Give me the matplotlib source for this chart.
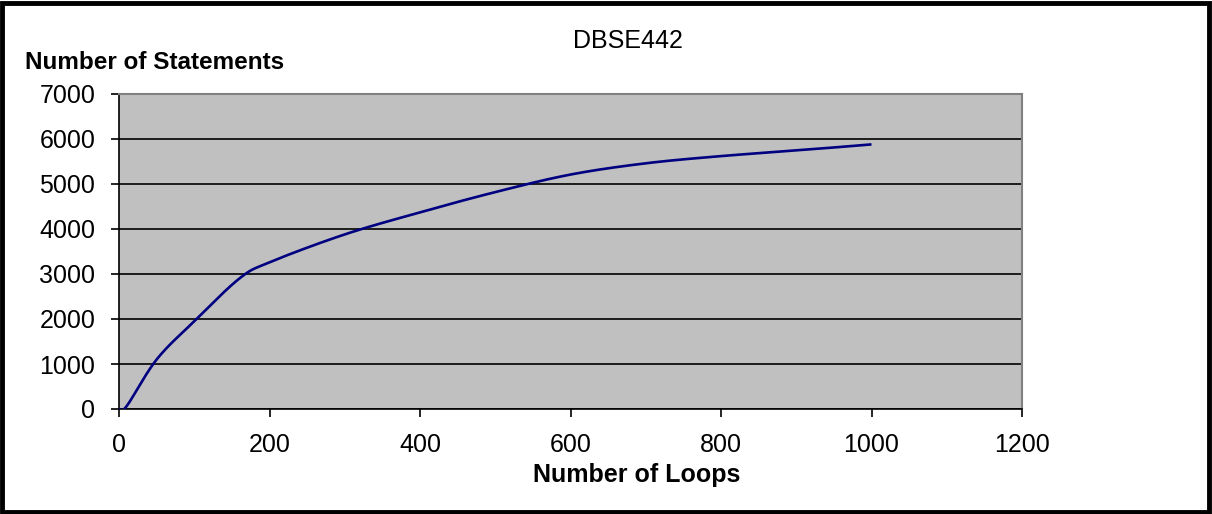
import numpy as np
import matplotlib.pyplot as plt
from matplotlib.patches import Rectangle

plt.rcParams["font.family"] = ["Liberation Sans", "DejaVu Sans"]

# Loop count vs. number of statements generated
loops = [0, 10, 50, 100, 160, 200, 300, 400, 500, 600, 700, 800, 900, 1000]
statements = [0, 60, 1100, 1950, 2900, 3260, 3880, 4370, 4820, 5210, 5460, 5620, 5745, 5880]

x_ticks = [0, 200, 400, 600, 800, 1000, 1200]
y_ticks = [0, 1000, 2000, 3000, 4000, 5000, 6000, 7000]


def smooth_line(xs, ys, steps=40):
    # Catmull-Rom style smoothing through every data point (like a spreadsheet "smoothed line")
    px = np.asarray(xs, float)
    py = np.asarray(ys, float)
    px = np.concatenate([[px[0]], px, [px[-1]]])
    py = np.concatenate([[py[0]], py, [py[-1]]])
    out_x, out_y = [], []
    t = np.linspace(0, 1, steps)
    for i in range(1, len(px) - 2):
        p0, p1, p2, p3 = [np.array([px[j], py[j]]) for j in (i - 1, i, i + 1, i + 2)]
        c1 = p1 + (p2 - p0) / 6.0
        c2 = p2 - (p3 - p1) / 6.0
        pts = ((1 - t)[:, None] ** 3 * p1 + 3 * ((1 - t) ** 2 * t)[:, None] * c1
               + 3 * ((1 - t) * t ** 2)[:, None] * c2 + (t ** 3)[:, None] * p2)
        out_x.extend(pts[:, 0])
        out_y.extend(pts[:, 1])
    return out_x, out_y


fig = plt.figure(figsize=(12.12, 5.14), dpi=100)
ax = fig.add_axes([119 / 1212, 1 - 409 / 514, (1022 - 119) / 1212, (409 - 94) / 514])
ax.set_facecolor("#C0C0C0")

sx, sy = smooth_line(loops, statements)
ax.plot(sx, sy, color="#000080", linewidth=1.9, solid_capstyle="butt", zorder=3)

ax.set_xlim(0, 1200)
ax.set_ylim(0, 7000)
ax.set_xticks(x_ticks)
ax.set_yticks(y_ticks)
ax.tick_params(axis="both", direction="out", length=6, width=1.2, color="#000000",
               labelsize=18, pad=11)
ax.yaxis.grid(True, color="#000000", linewidth=1.2)
ax.set_axisbelow(True)

for side in ("top", "right"):
    ax.spines[side].set_color("#808080")
    ax.spines[side].set_linewidth(1.5)
for side in ("left", "bottom"):
    ax.spines[side].set_color("#000000")
    ax.spines[side].set_linewidth(1.2)

fig.text(628 / 1212, 1 - 41 / 514, "DBSE442", fontsize=18, ha="center", va="center")
fig.text(25 / 1212, 1 - 69 / 514, "Number of Statements", fontsize=17.5,
         fontweight="bold", ha="left", va="baseline")
fig.text(637 / 1212, 1 - 475 / 514, "Number of Loops", fontsize=18,
         fontweight="bold", ha="center", va="center")

# outer chart border
fig.patches.append(Rectangle((2 / 1212, 2 / 514), 1207 / 1212, 509 / 514,
                             transform=fig.transFigure, fill=False,
                             edgecolor="#000000", linewidth=3.5))

fig.savefig("out.png", dpi=100)
